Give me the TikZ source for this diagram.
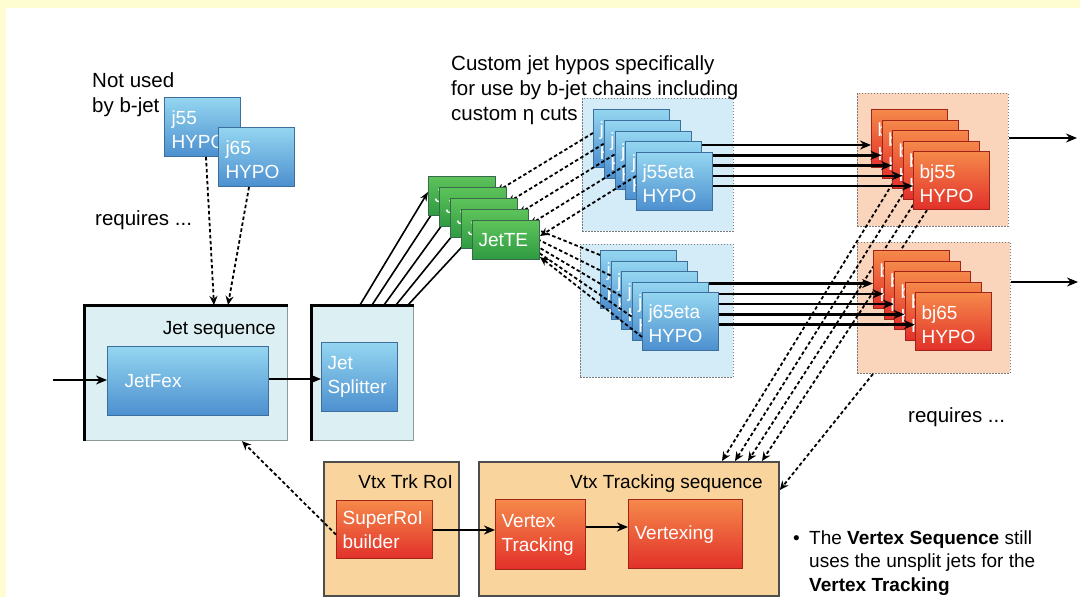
\documentclass[tikz,border=0pt]{standalone}
\usepackage{fontspec}
\setmainfont{Liberation Sans}
\usetikzlibrary{arrows.meta,calc}
\pgfdeclarelayer{back}
\pgfdeclarelayer{mid}
\pgfdeclarelayer{upper}
\pgfdeclarelayer{top}
\pgfsetlayers{back,main,mid,upper,top}
\definecolor{pagey}{HTML}{FEFDD2}
\definecolor{jsfill}{HTML}{DCEFF2}
\definecolor{jsedge}{HTML}{8C9A9C}
\definecolor{bluetop}{HTML}{94D6F0}
\definecolor{bluebot}{HTML}{4C8FCF}
\definecolor{blueedge}{HTML}{3E6E9C}
\definecolor{etafill}{HTML}{D3ECF8}
\definecolor{bjfill}{HTML}{FAD5BC}
\definecolor{redtop}{HTML}{F5894A}
\definecolor{redbot}{HTML}{E2302A}
\definecolor{rededge}{HTML}{A0241A}
\definecolor{greentop}{HTML}{5DC35A}
\definecolor{greenbot}{HTML}{2E9A42}
\definecolor{greenedge}{HTML}{37694A}
\definecolor{vtxfill}{HTML}{F9D49C}
\definecolor{vtxedge}{HTML}{4D4D4D}
\definecolor{dotedge}{HTML}{7A7A7A}
\begin{document}
\begin{tikzpicture}[x=1pt,y=-1pt,
  lbl/.style={font=\fontsize{20.5}{25}\selectfont, inner sep=0pt, anchor=base west},
  sml/.style={font=\fontsize{19}{24}\selectfont, inner sep=0pt, anchor=base west},
  boxfont/.style={font=\fontsize{19}{24}\selectfont, text=white, align=left,
    inner xsep=6pt, inner ysep=0pt, anchor=north west},
  lowtext/.style={execute at begin node={\rule{0pt}{19pt}}},
  bluebox/.style={boxfont, draw=blueedge, line width=1pt, top color=bluetop, bottom color=bluebot},
  redbox/.style={boxfont, draw=rededge, line width=1.2pt, top color=redtop, bottom color=redbot},
  greenbox/.style={boxfont, draw=greenedge, line width=1pt, top color=greentop, bottom color=greenbot},
  hyposz/.style={minimum width=76pt, minimum height=58pt, text width=64pt, lowtext},
  group/.style={draw=dotedge, line width=0.9pt, dash pattern=on 1.5pt off 1.5pt,
    anchor=north west, inner sep=0pt},
  seqbox/.style={fill=jsfill, draw=jsedge, line width=1.2pt, anchor=north west, inner sep=0pt},
  vtxbox/.style={fill=vtxfill, draw=vtxedge, line width=1.8pt, anchor=north west, inner sep=0pt},
  flow/.style={line width=2.2pt, -{Stealth[length=11pt,width=9pt]}},
  needs/.style={line width=1.8pt, dash pattern=on 3.5pt off 2.5pt, -{Stealth[length=9pt,width=8pt]}},
]
\useasboundingbox (0,0) rectangle (1080,597);

% page and group containers
\begin{pgfonlayer}{back}
  \fill[pagey] (0,0) rectangle (1080,597);
  \fill[white] (6,8) rectangle (1080,597);
  \node[group, fill=etafill, minimum width=151pt, minimum height=133pt] (hc1) at (582,98) {};
  \node[group, fill=etafill, minimum width=153pt, minimum height=133pt] (hc2) at (580,244) {};
  \node[group, fill=bjfill, minimum width=151pt, minimum height=133pt] (bc1) at (857,93) {};
  \node[group, fill=bjfill, minimum width=153pt, minimum height=131pt] (bc2) at (857,242) {};
  \node[seqbox, minimum width=203pt, minimum height=135pt] (js) at (84,305) {};
  \draw[line width=3pt] (js.south west) -- (js.north west) -- (js.north east);
  \node[seqbox, minimum width=102pt, minimum height=135pt] (jsp) at (311,305) {};
  \draw[line width=3pt] (jsp.south west) -- (jsp.north west) -- (jsp.north east);
  \node[vtxbox, minimum width=135pt, minimum height=134pt] (vr) at (323,461) {};
  \node[vtxbox, minimum width=300pt, minimum height=134pt] (vs) at (478,461) {};
\end{pgfonlayer}

% plain jet hypos
\node[bluebox, lowtext, minimum width=76pt, minimum height=59pt, text width=62pt, inner xsep=7pt] (j55) at (164,97) {j55\\HYPO};
\node[bluebox, lowtext, minimum width=76pt, minimum height=59pt, text width=62pt, inner xsep=7pt] (j65) at (218,127) {j65\\HYPO};

% b-jet hypo stacks
\foreach \k in {0,...,4}
  \node[redbox, hyposz] (bu\k) at ({871+10.5*\k},{109+10.5*\k}) {bj55\\HYPO};
\foreach \k in {0,...,4}
  \node[redbox, hyposz] (bl\k) at ({873+10.5*\k},{250+10.5*\k}) {bj65\\HYPO};

% algorithms inside the sequences
\node[bluebox, minimum width=161pt, minimum height=69pt, text width=127pt, inner xsep=17pt] (jf) at (107,346) {JetFex};
\node[bluebox, minimum width=76pt, minimum height=69pt, text width=64pt] (spl) at (321,342) {Jet\\Splitter};
\node[redbox, minimum width=96pt, minimum height=58pt, text width=84pt] (sr) at (336,500) {SuperRoI\\builder};
\node[redbox, minimum width=90pt, minimum height=70pt, text width=78pt] (vtk) at (495,499) {Vertex\\Tracking};
\node[redbox, minimum width=114pt, minimum height=69pt, text width=102pt] (vx) at (628,499) {Vertexing};

% eta-cut jet hypo stacks
\begin{pgfonlayer}{mid}
  \foreach \k in {0,...,4}
    \node[bluebox, hyposz] (hu\k) at ({593+10.75*\k},{109+10.75*\k}) {j55eta\\HYPO};
  \foreach \k in {0,...,4}
    \node[bluebox, hyposz] (hl\k) at ({600+10.5*\k},{250+10.5*\k}) {j65eta\\HYPO};
\end{pgfonlayer}

% split jet trigger elements
\begin{pgfonlayer}{top}
  \foreach \k in {0,...,4}
    \node[greenbox, minimum width=67pt, minimum height=39pt, text width=55pt] (g\k) at ({428+11*\k},{176+11*\k}) {JetTE};
\end{pgfonlayer}

% free text
\node[lbl] (nu1) at (92,87) {Not used};
\node[lbl] (nu2) at (92,112) {by b-jet};
\node[lbl] (rq1) at (95,225) {requires ...};
\node[lbl] (cj1) at (451,70) {Custom jet hypos specifically};
\node[lbl] (cj2) at (451,95) {for use by b-jet chains including};
\node[lbl] (cj3) at (451,120) {custom η cuts};
\node[lbl] (rq2) at (908,422) {requires ...};
\node[sml, anchor=base east] (jst) at (276,334) {Jet sequence};
\node[sml, anchor=base east] (vrt) at (453,488) {Vtx Trk RoI};
\node[sml, anchor=base east] (vst) at (763,488) {Vtx Tracking sequence};
\node[sml] (bul) at (793,544) {•};
\node[sml] (bt1) at (809,544) {The \textbf{Vertex Sequence} still};
\node[sml] (bt2) at (809,567.5) {uses the unsplit jets for the};
\node[sml] (bt3) at (809,591) {\textbf{Vertex Tracking}};

% data flow
\coordinate (in) at (53,380);
\draw[flow] (in) -- (jf.west |- in);
\draw[flow] (jf.east |- 0,379) -- (spl.west |- 0,379);
\draw[flow] (sr.east |- 0,530) -- (vtk.west |- 0,530);
\draw[flow] (vtk.east |- 0,527) -- (vx.west |- 0,527);
\foreach \k [evaluate=\k as \yy using 145+10.25*\k] in {0,...,4}
  \draw[flow, line width=2.5pt] (hu\k.east |- 0,\yy) -- (bu\k.west |- 0,\yy);
\foreach \k [evaluate=\k as \yy using 283.5+10.3*\k] in {0,...,4}
  \draw[flow, line width=2.5pt] (hl\k.east |- 0,\yy) -- (bl\k.west |- 0,\yy);
\coordinate (o1) at (1077,138);
\coordinate (o2) at (1078,282);
\draw[flow] (bc1.east |- o1) -- (o1);
\draw[flow] (bc2.east |- o2) -- (o2);

% dependencies
\draw[needs] ($(j55.south west)+(42,0)$) -- ($(js.north west)+(130,0)$);
\draw[needs] ($(j65.south west)+(31,0)$) -- ($(js.north west)+(144,0)$);
\draw[needs] ($(sr.west)+(0,5)$) -- ($(js.south west)+(158,0)$);
\draw[needs] ($(bc2.south west)+(16,0)$) -- ($(vs.north east)+(0,29)$);
\begin{pgfonlayer}{back}
  \foreach \k/\dx in {1/244,2/257,3/270,4/284}
    \draw[needs] ($(bu\k.south west)+(14,0)$) -- ($(vs.north west)+(\dx,0)$);
\end{pgfonlayer}

\begin{pgfonlayer}{upper}
  \foreach \k in {0,...,4}
    \draw[line width=1.6pt, -{Stealth[length=9pt,width=7pt]}]
      ($(jsp.north west)+({49+12*\k},0)$) -- ($(g\k.north west)+(0,16)$);
  \foreach \k in {0,...,4}
    \draw[needs] ($(hu\k.north west)+(0,24)$) -- ($(g\k.north east)+(0,16)$);
  \foreach \k in {0,...,4}
    \draw[needs] ($(hl\k.north west)+(0,{5+10*\k})$) -- ($(g\k.south east)+(0,-3)$);
\end{pgfonlayer}
\end{tikzpicture}
\end{document}
